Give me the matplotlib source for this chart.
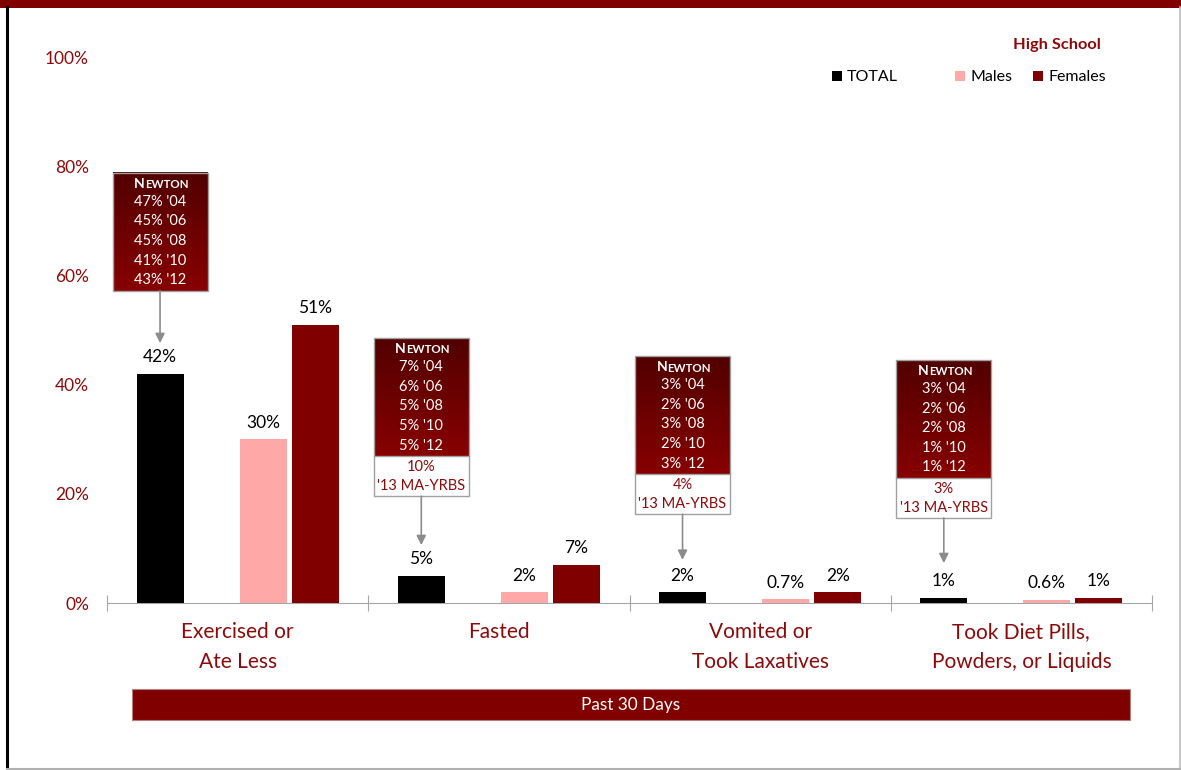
import numpy as np
import matplotlib
matplotlib.use("Agg")
import matplotlib.pyplot as plt
from matplotlib.patches import Rectangle
from matplotlib.colors import LinearSegmentedColormap

plt.rcParams['font.family'] = ['Lato', 'DejaVu Sans']

# --- data ---
categories = ["Exercised or\nAte Less", "Fasted", "Vomited or\nTook Laxatives",
              "Took Diet Pills,\nPowders, or Liquids"]
total = [42, 5, 2, 1]
males = [30, 2, 0.7, 0.6]
females = [51, 7, 2, 1]
total_lbl = ["42%", "5%", "2%", "1%"]
males_lbl = ["30%", "2%", "0.7%", "0.6%"]
females_lbl = ["51%", "7%", "2%", "1%"]

newton_years = ["'04", "'06", "'08", "'10", "'12"]
newton_vals = [[47, 45, 45, 41, 43],
               [7, 6, 5, 5, 5],
               [3, 2, 3, 2, 3],
               [3, 2, 2, 1, 1]]
ma_yrbs = [None, 10, 4, 3]

DARK = "#800000"
PINK = "#ffa8a8"
TXT_RED = "#8b0a0a"

W, H = 1181, 770
fig = plt.figure(figsize=(W / 100, H / 100), dpi=100)

# main axes: x 107..1152 px, y 0% at 603 px, 100% at 57 px
ax = fig.add_axes([107 / W, (H - 603) / H, 1045 / W, 546 / H])
ax.set_xlim(0, 4)
ax.set_ylim(0, 100)

x = np.arange(len(categories))
bw = 0.18
ax.bar(x + 0.203, total, bw, color="black", zorder=3)
ax.bar(x + 0.598, males, bw, color=PINK, zorder=3)
ax.bar(x + 0.797, females, bw, color=DARK, zorder=3)

for i in range(len(categories)):
    for off, v, s in [(0.203, total[i], total_lbl[i]), (0.598, males[i], males_lbl[i]),
                      (0.797, females[i], females_lbl[i])]:
        ax.annotate(s, (i + off, v), xytext=(0, 6), textcoords="offset points",
                    ha="center", va="bottom", fontsize=12.5, color="black")

# axes styling
for sp in ["left", "top", "right"]:
    ax.spines[sp].set_visible(False)
ax.spines["bottom"].set_color("#a6a6a6")
ax.set_yticks(range(0, 101, 20))
ax.set_yticklabels([f"{v}%" for v in range(0, 101, 20)], color=TXT_RED, fontsize=12.5)
ax.tick_params(axis="y", length=0, pad=13)
ax.set_xticks(range(5))
ax.set_xticklabels([])
ax.tick_params(axis="x", which="major", direction="inout", length=12, color="#a6a6a6")
ax.set_xticks(x + 0.5, minor=True)
ax.set_xticklabels(categories, minor=True, color=TXT_RED, fontsize=15, linespacing=1.6)
ax.tick_params(axis="x", which="minor", length=0, pad=14)

# Newton trend boxes with arrows to the TOTAL bar
px_x = 4 / 1045.0     # data units per pixel
px_y = 100 / 546.0
box_w = 95 * px_x
dark_h = 118 * px_y
white_h = 40 * px_y
row = 19.6 * px_y
box_tops = [78.8, 48.5, 45.2, 44.5]
arrow_tips = [47.6, 10.6, 7.9, 7.3]
cmap = LinearSegmentedColormap.from_list("grad", ["#520000", "#870000"])
grad = np.linspace(0, 1, 100).reshape(-1, 1)

for i in range(len(categories)):
    cx = i + 0.203
    x0 = cx - box_w / 2
    top = box_tops[i]
    ax.imshow(grad, cmap=cmap, aspect="auto", origin="upper",
              extent=[x0, x0 + box_w, top - dark_h, top], zorder=4)
    bottom = top - dark_h
    if ma_yrbs[i] is not None:
        bottom = top - dark_h - white_h
        ax.add_patch(Rectangle((x0, bottom), box_w, white_h, facecolor="white",
                               edgecolor="none", zorder=4))
        ax.plot([x0, x0 + box_w], [top - dark_h] * 2, color="#a0a0a0", lw=1, zorder=5)
        ax.text(cx, top - dark_h - 10.5 * px_y, f"{ma_yrbs[i]}%", ha="center",
                va="center", fontsize=10.5, color=TXT_RED, zorder=6)
        ax.text(cx, top - dark_h - 29.5 * px_y, "'13 MA-YRBS", ha="center",
                va="center", fontsize=10.5, color=TXT_RED, zorder=6)
    ax.add_patch(Rectangle((x0, bottom), box_w, top - bottom, facecolor="none",
                           edgecolor="#a0a0a0", lw=1, zorder=5))
    # small-caps heading
    ax.text(cx - 26 * px_x, top - 11 * px_y, "N", ha="left", va="center", fontsize=10,
            fontweight="bold", color="white", zorder=6)
    ax.text(cx - 15 * px_x, top - 11.8 * px_y, "EWTON", ha="left", va="center",
            fontsize=8.3, fontweight="bold", color="white", zorder=6)
    for k, (v, yr) in enumerate(zip(newton_vals[i], newton_years)):
        ax.text(cx, top - 29 * px_y - k * row, f"{v}% {yr}", ha="center",
                va="center", fontsize=10.5, color="white", zorder=6)
    ax.annotate("", xy=(cx, arrow_tips[i]), xytext=(cx, bottom),
                arrowprops=dict(arrowstyle="-|>", color="#8c8c8c", lw=1.2,
                                mutation_scale=14, shrinkA=0, shrinkB=0), zorder=5)

# overlay in pixel coordinates for frame, legend and banner
ov = fig.add_axes([0, 0, 1, 1], zorder=-1)
ov.set_xlim(0, W)
ov.set_ylim(H, 0)
ov.axis("off")
ov.add_patch(Rectangle((0, 0), W, 7.5, facecolor=DARK, edgecolor="none"))
ov.plot([7, 7], [7, H], color="black", lw=2.2)
ov.plot([1180, 1180], [7, H], color="#bdbdbd", lw=1.2)
ov.plot([7, W], [768.5, 768.5], color="#b0b0b0", lw=1.5)

lg = fig.add_axes([0, 0, 1, 1], zorder=10)
lg.set_xlim(0, W)
lg.set_ylim(H, 0)
lg.axis("off")
lg.text(1057, 45, "High School", ha="center", va="center", fontsize=11.8,
        fontweight="bold", color=TXT_RED)
for x0, col, name in [(832, "black", "TOTAL"), (955, PINK, "Males"), (1033, DARK, "Females")]:
    lg.add_patch(Rectangle((x0, 71), 10, 10, facecolor=col, edgecolor="none"))
    lg.text(x0 + 15, 77, name, ha="left", va="center", fontsize=11.5, color="black")

lg.add_patch(Rectangle((132, 689), 998, 31, facecolor=DARK, edgecolor="#b08080", lw=0.8))
lg.text(631, 705, "Past 30 Days", ha="center", va="center", fontsize=12.4, color="white")

fig.savefig("out.png", dpi=100)
